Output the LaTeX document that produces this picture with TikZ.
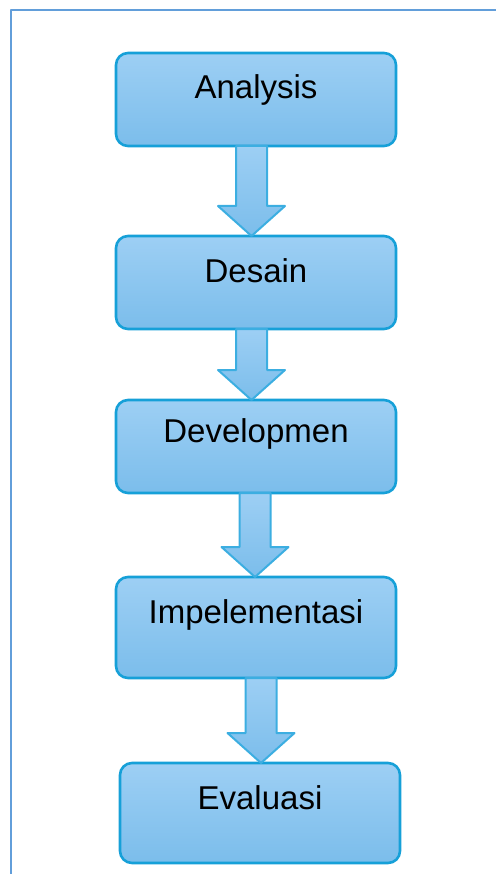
\documentclass[tikz,border=0pt]{standalone}
\usepackage{fontspec}
\setmainfont{Liberation Sans}
\usetikzlibrary{positioning,calc}
\definecolor{boxtop}{RGB}{157,207,244}
\definecolor{boxbot}{RGB}{123,189,235}
\definecolor{boxline}{RGB}{22,160,216}
\definecolor{arrline}{RGB}{60,174,225}
\definecolor{frameline}{RGB}{98,158,218}
\begin{document}
\begin{tikzpicture}[x=1pt,y=-1pt,line join=round,
  phase/.style={draw=boxline,line width=2.6pt,rounded corners=12pt,top color=boxtop,bottom color=boxbot,
    minimum width=280pt,inner sep=0pt,outer sep=0pt,text height=46pt,text depth=47pt,font=\fontsize{33}{40}\selectfont},
  fatarrow/.style={draw=arrline,line width=2pt,top color=boxtop,bottom color=boxbot}]
\useasboundingbox (0,0) rectangle (496,874);
\draw[frameline,line width=2pt] (11,874) -- (11,10) -- (496,10);
\node[phase,anchor=north] (analysis) at (256,53) {Analysis};
\node[phase,below=90pt of analysis] (desain) {Desain};
\node[phase,below=71pt of desain,text height=42pt,text depth=51pt] (developmen) {Developmen};
\node[phase,below=84pt of developmen,text depth=55pt] (implementasi) {Impelementasi};
\node[phase,below=85pt of implementasi,xshift=4pt,text depth=54pt] (evaluasi) {Evaluasi};
\foreach \a/\b/\s in {analysis/desain/-4.5,desain/developmen/-4.5,developmen/implementasi/-1,implementasi/evaluasi/5}
  \draw[fatarrow] let \p1=($(\a.south)+(\s,0)$), \p2=(\b.north) in
    (\x1-15.5pt,\y1) -- (\x1+15.5pt,\y1) -- (\x1+15.5pt,\y2+30pt) -- (\x1+33.5pt,\y2+30pt)
    -- (\x1,\y2) -- (\x1-33.5pt,\y2+30pt) -- (\x1-15.5pt,\y2+30pt) -- cycle;
\end{tikzpicture}
\end{document}
